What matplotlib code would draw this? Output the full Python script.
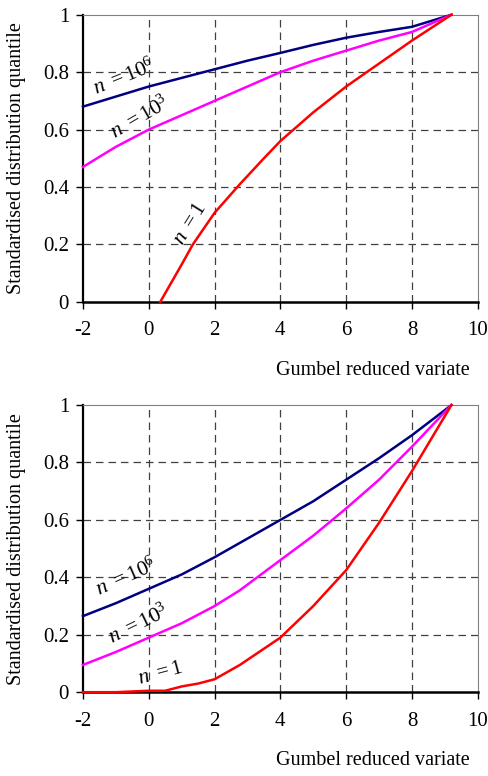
import numpy as np
import matplotlib.pyplot as plt

plt.rcParams['font.family'] = ['Liberation Serif', 'DejaVu Serif']
plt.rcParams['mathtext.fontset'] = 'custom'
plt.rcParams['mathtext.rm'] = 'Liberation Serif'
plt.rcParams['mathtext.it'] = 'Liberation Serif:italic'

# Верхній графік
x_top_n6 = [-2, -1, 0, 1, 2, 3, 4, 5, 6, 7, 8, 9.2]
y_top_n6 = [0.68, 0.715, 0.75, 0.78, 0.81, 0.84, 0.867, 0.895, 0.92, 0.94, 0.958, 1.0]
x_top_n3 = [-2, -1, 0, 1, 2, 3, 4, 5, 6, 7, 8, 9.2]
y_top_n3 = [0.47, 0.54, 0.60, 0.65, 0.70, 0.75, 0.80, 0.84, 0.875, 0.91, 0.94, 1.0]
x_top_n1 = [0.35, 1.0, 1.34, 2.0, 2.77, 3.5, 4.0, 4.3, 5.0, 6.0, 7.0, 8.0, 9.2]
y_top_n1 = [0.0, 0.13, 0.20, 0.31, 0.41, 0.50, 0.56, 0.59, 0.66, 0.75, 0.83, 0.91, 1.0]

# Нижній графік
x_bot_n6 = [-2, -1, 0, 1, 2, 3, 4, 5, 6, 7, 8, 9.2]
y_bot_n6 = [0.265, 0.31, 0.36, 0.41, 0.47, 0.535, 0.60, 0.665, 0.74, 0.815, 0.895, 1.0]
x_bot_n3 = [-2, -1, 0, 1, 2, 2.77, 4, 5, 6, 7, 8, 9.2]
y_bot_n3 = [0.095, 0.14, 0.19, 0.24, 0.30, 0.355, 0.46, 0.545, 0.64, 0.74, 0.855, 1.0]
x_bot_n1 = [-2, -1, 0, 0.5, 1, 1.5, 2, 2.77, 4, 5, 6, 7, 8, 9.2]
y_bot_n1 = [0.0, 0.0, 0.005, 0.005, 0.02, 0.03, 0.045, 0.095, 0.19, 0.30, 0.425, 0.59, 0.77, 1.0]

x_ticks = [-2, 0, 2, 4, 6, 8, 10]
y_ticks = [0, 0.2, 0.4, 0.6, 0.8, 1]
y_tick_labels = ['0', '0.2', '0.4', '0.6', '0.8', '1']

fig = plt.figure(figsize=(4.88, 7.76), dpi=100)
ax1 = fig.add_axes([0.170, 0.611, 0.809, 0.370])
ax2 = fig.add_axes([0.170, 0.108, 0.809, 0.370])


def style_axes(ax):
    ax.set_xlim(-2, 10)
    ax.set_ylim(0, 1)
    ax.set_xticks(x_ticks)
    ax.set_xticklabels([str(t) for t in x_ticks])
    ax.set_yticks(y_ticks)
    ax.set_yticklabels(y_tick_labels)
    ax.tick_params(direction='out', length=5, width=1, labelsize=15, pad=9)
    ax.tick_params(axis='y', pad=5)
    for v in x_ticks[1:-1]:
        ax.axvline(v, color='#404040', lw=0.9, dashes=(6, 4), zorder=1)
    for v in y_ticks[1:-1]:
        ax.axhline(v, color='#404040', lw=0.9, dashes=(6, 4), zorder=1)
    ax.spines['left'].set_linewidth(1.6)
    ax.spines['bottom'].set_linewidth(1.8)
    ax.spines['top'].set_color('#808080')
    ax.spines['right'].set_color('#808080')
    ax.set_ylabel('Standardised distribution quantile', fontsize=14.5)
    ax.yaxis.set_label_coords(-0.145, 0.5)
    ax.set_xlabel('Gumbel reduced variate', fontsize=14.5, loc='right')
    ax.xaxis.set_label_coords(0.98, -0.205)


style_axes(ax1)
ax1.plot(x_top_n6, y_top_n6, color='#000080', lw=1.8, zorder=3, clip_on=False)
ax1.plot(x_top_n3, y_top_n3, color='#ff00ff', lw=1.8, zorder=3, clip_on=False)
ax1.plot(x_top_n1, y_top_n1, color='#ff0000', lw=1.8, zorder=3, clip_on=False)
ax1.text(-0.75, 0.78, r'$n\ =10^6$', fontsize=15.5, rotation=22, ha='center', va='center')
ax1.text(-0.27, 0.64, r'$n\ =10^3$', fontsize=15.5, rotation=30, ha='center', va='center')
ax1.text(1.28, 0.27, r'$n\ =1$', fontsize=15.5, rotation=58, ha='center', va='center')

style_axes(ax2)
ax2.plot(x_bot_n6, y_bot_n6, color='#000080', lw=1.8, zorder=3, clip_on=False)
ax2.plot(x_bot_n3, y_bot_n3, color='#ff00ff', lw=1.8, zorder=3, clip_on=False)
ax2.plot(x_bot_n1, y_bot_n1, color='#ff0000', lw=1.8, zorder=3, clip_on=False)
ax2.text(-0.69, 0.40, r'$n\ =10^6$', fontsize=15.5, rotation=24, ha='center', va='center')
ax2.text(-0.30, 0.235, r'$n\ =10^3$', fontsize=15.5, rotation=26, ha='center', va='center')
ax2.text(0.34, 0.065, r'$n\ =1$', fontsize=15.5, rotation=15, ha='center', va='center')

fig.savefig('out.png', dpi=100)
